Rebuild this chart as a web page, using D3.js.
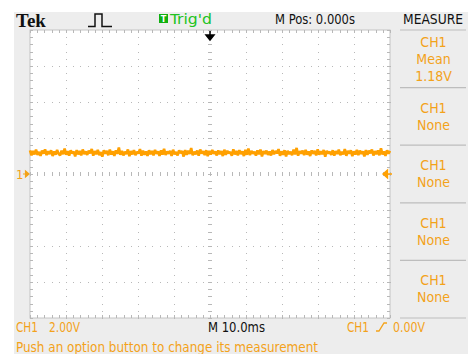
<!DOCTYPE html>
<html>
<head>
<meta charset="utf-8">
<script src="https://cdn.jsdelivr.net/npm/d3@7"></script>
<style>
  html, body { margin: 0; padding: 0; background: #ffffff; }
  svg { display: block; }
  .ui { font-family: "DejaVu Sans Condensed", "Liberation Sans Narrow", "DejaVu Sans", sans-serif; font-stretch: condensed; }
</style>
</head>
<body>
<svg id="scope" width="468" height="354"></svg>
<script>
// CH1 acquisition record, volts (one sample per trace step)
const traceVolts = [
  1.31,1.03,1.28,1.09,1.35,1.06,1.23,1.01,1.30,1.13,1.37,1.05,1.26,1.11,1.32,1.00,1.25,1.08,1.34,1.12,
  1.04,1.29,1.10,1.41,1.07,1.27,1.02,1.31,1.14,1.24,0.98,1.33,1.09,1.28,1.03,1.36,1.11,1.25,1.06,1.30,
  1.15,1.39,1.02,1.27,1.10,1.34,1.05,1.22,0.96,1.31,1.13,1.28,1.04,1.35,1.08,1.26,1.01,1.32,1.12,1.47,
  1.07,1.29,1.03,1.24,1.11,1.36,0.99,1.27,1.09,1.33,1.05,1.23,1.14,1.38,1.02,1.30,1.07,1.25,1.01,1.32,
  1.10,1.28,1.04,1.34,1.12,1.26,1.01,1.31,1.08,1.40,1.06,1.25,1.13,1.29,1.00,1.35,1.09,1.22,1.03,1.31,
  1.16,1.27,0.97,1.33,1.07,1.29,1.11,1.44,1.04,1.24,1.09,1.30,1.02,1.36,1.13,1.26,1.05,1.32,0.99,1.28,
  1.08,1.34,1.12,1.25,1.03,1.31,1.10,1.27,1.00,1.35,1.06,1.29,1.14,1.23,1.01,1.37,1.09,1.28,1.04,1.32,
  1.11,1.26,1.00,1.34,1.07,1.42,1.05,1.28,1.13,1.24,1.02,1.31,1.09,1.36,0.98,1.27,1.12,1.30,1.06,1.25,
  1.03,1.33,1.10,1.28,1.15,1.38,1.01,1.26,1.07,1.32,0.97,1.29,1.11,1.24,1.04,1.35,1.09,1.45,1.02,1.27,
  1.13,1.30,1.05,1.34,1.08,1.25,1.00,1.31,1.12,1.28,1.03,1.37,1.07,1.26,1.10,1.33,0.96,1.29,1.14,1.24,
  1.06,1.32,1.02,1.27,1.11,1.35,1.04,1.23,1.09,1.39,1.01,1.28,1.13,1.31,0.99,1.26,1.08,1.34,1.05,1.30,
  1.12,1.25,0.98,1.33,1.07,1.29,1.15,1.36,1.03,1.27,1.10,1.31,1.04,1.43,1.09,1.26,1.01,1.32,1.13,1.28
];

// Horizontal and vertical settings
const timePerDiv = 10;      // ms/div
const voltsPerDiv = 2;      // V/div
const hDivs = 10, vDivs = 8, minorPerDiv = 5;
const triggerLevel = 0;     // V
const chOffset = 0;         // V

// Measurement slots (right-hand menu)
const measureSources = ["CH1", "CH1", "CH1", "CH1", "CH1"];
const measureTypes   = ["Mean", "None", "None", "None", "None"];

// Status-bar labels
const brandLabel = "Tek";
const trigStatus = "Trig'd";
const posLabel = "M Pos: 0.000s";
const menuTitle = "MEASURE";
const chScaleLabel = ["CH1", "2.00V"];
const timebaseLabel = "M 10.0ms";
const trigSource = "CH1";
const trigLevelLabel = "0.00V";
const helpLabel = "Push an option button to change its measurement";

const ORANGE = "#ffa000";
const TEXT_OR = "#f3a21a";
const GRID = "#b8b8b8";

const svg = d3.select("#scope");

// Bezel
svg.append("rect").attr("x", 14).attr("y", 12).attr("width", 454).attr("height", 342).attr("fill", "#ededed");

// Graticule area
const X0 = 30, X1 = 390, Y0 = 30, Y1 = 318;
const x = d3.scaleLinear().domain([0, hDivs * timePerDiv]).range([X0, X1]);
const y = d3.scaleLinear().domain([-vDivs / 2 * voltsPerDiv, vDivs / 2 * voltsPerDiv]).range([Y1, Y0]);

svg.append("rect").attr("x", X0).attr("y", Y0).attr("width", X1 - X0).attr("height", Y1 - Y0)
  .attr("fill", "#ffffff").attr("stroke", "#c4c4c4").attr("stroke-width", 1);

const grid = svg.append("g").attr("shape-rendering", "crispEdges");
const minorT = d3.range(0, hDivs * timePerDiv + 0.001, timePerDiv / minorPerDiv);
const minorV = d3.range(-vDivs / 2 * voltsPerDiv, vDivs / 2 * voltsPerDiv + 0.001, voltsPerDiv / minorPerDiv);
const majorT = d3.range(1, hDivs).map(i => i * timePerDiv);
const majorV = d3.range(1, vDivs).map(i => -vDivs / 2 * voltsPerDiv + i * voltsPerDiv);

// dotted graticule: one dot per minor step along every major line
majorV.forEach(v => {
  grid.selectAll(null).data(minorT).enter().append("rect")
    .attr("x", t => Math.round(x(t))).attr("y", Math.round(y(v))).attr("width", 1).attr("height", 1).attr("fill", GRID);
});
majorT.forEach(t => {
  grid.selectAll(null).data(minorV).enter().append("rect")
    .attr("x", Math.round(x(t))).attr("y", v => Math.round(y(v))).attr("width", 1).attr("height", 1).attr("fill", GRID);
});

// centre cross tick marks and border ticks via axes
const tickStyle = g => { g.select(".domain").remove(); g.selectAll("text").remove(); g.selectAll("line").attr("stroke", GRID); };
grid.append("g").attr("transform", `translate(0,${y(0) + 2})`)
  .call(d3.axisTop(x).tickValues(minorT).tickSize(4)).call(tickStyle);
grid.append("g").attr("transform", `translate(${x(50) - 2},0)`)
  .call(d3.axisRight(y).tickValues(minorV).tickSize(4)).call(tickStyle);
grid.append("g").attr("transform", `translate(0,${Y0})`)
  .call(d3.axisBottom(x).tickValues(minorT).tickSize(3)).call(tickStyle);
grid.append("g").attr("transform", `translate(0,${Y1})`)
  .call(d3.axisTop(x).tickValues(minorT).tickSize(3)).call(tickStyle);
grid.append("g").attr("transform", `translate(${X0},0)`)
  .call(d3.axisRight(y).tickValues(minorV).tickSize(3)).call(tickStyle);
grid.append("g").attr("transform", `translate(${X1},0)`)
  .call(d3.axisLeft(y).tickValues(minorV).tickSize(3)).call(tickStyle);

// CH1 waveform
const tStep = (hDivs * timePerDiv) / (traceVolts.length - 1);
const line = d3.line().x((d, i) => x(i * tStep)).y(d => y(d + chOffset)).curve(d3.curveLinear);
svg.append("path").datum(traceVolts).attr("d", line)
  .attr("fill", "none").attr("stroke", ORANGE).attr("stroke-width", 2.6).attr("stroke-linejoin", "bevel");

// Ground marker "1 →" on the left
svg.append("text").attr("class", "ui").attr("x", 16).attr("y", y(chOffset) + 5)
  .attr("font-size", 13).attr("fill", TEXT_OR).text("1");
svg.append("path").attr("d", `M23,${y(chOffset)} H28 M25.5,${y(chOffset) - 3} L29,${y(chOffset)} L25.5,${y(chOffset) + 3} Z`)
  .attr("stroke", TEXT_OR).attr("fill", TEXT_OR).attr("stroke-width", 1.2);

// Trigger level marker on the right
const ty = y(triggerLevel);
svg.append("path").attr("d", `M383,${ty} L387.5,${ty - 4} L387.5,${ty + 4} Z M387,${ty} H392`)
  .attr("stroke", ORANGE).attr("fill", ORANGE).attr("stroke-width", 1.4);

// Trigger position arrow at top
const tx = x(50);
svg.append("path").attr("d", `M${tx},${Y0 + 1} V${Y0 + 6} M${tx - 4},${Y0 + 5} L${tx + 4},${Y0 + 5} L${tx},${Y0 + 10} Z`)
  .attr("stroke", "#000").attr("fill", "#000").attr("stroke-width", 1.5);

// helper for condensed readout text
function label(xp, yp, s, color, width, anchor) {
  const t = svg.append("text").attr("class", "ui").attr("x", xp).attr("y", yp)
    .attr("font-size", 14).attr("fill", color).attr("text-anchor", anchor || "start").text(s);
  if (width) t.attr("textLength", width).attr("lengthAdjust", "spacingAndGlyphs");
  return t;
}

// Top status bar
svg.append("text").attr("x", 16).attr("y", 27).attr("font-family", "'Liberation Serif', 'DejaVu Serif', serif")
  .attr("font-weight", "bold").attr("font-size", 19).attr("fill", "#111").text(brandLabel);
svg.append("path").attr("d", "M88,26.5 H95 V14 H102 V26.5 H112")
  .attr("fill", "none").attr("stroke", "#111").attr("stroke-width", 1.5);
svg.append("rect").attr("x", 159).attr("y", 14).attr("width", 9).attr("height", 9).attr("fill", "#10b010");
svg.append("text").attr("class", "ui").attr("x", 163.5).attr("y", 22).attr("text-anchor", "middle")
  .attr("font-size", 9).attr("font-weight", "bold").attr("fill", "#fff").text("T");
label(170, 24, trigStatus, "#22c322", 42);
label(275, 24, posLabel, "#111", 80);
label(403, 24, menuTitle, "#111", 60);

// Measurement menu
const slotTop = 30, slotH = 57.6;
const menu = svg.append("g");
menu.selectAll("line").data(d3.range(measureTypes.length + 1)).enter().append("line")
  .attr("x1", 400).attr("x2", 466).attr("y1", i => slotTop + i * slotH).attr("y2", i => slotTop + i * slotH)
  .attr("stroke", "#bdbdbd").attr("stroke-width", 1.2);
const meanValue = d3.mean(traceVolts).toFixed(2) + "V";
measureTypes.forEach((m, i) => {
  const lines = [measureSources[i], m];
  if (m === "Mean") lines.push(meanValue);
  const top = slotTop + i * slotH;
  lines.forEach((s, k) => {
    menu.append("text").attr("class", "ui").attr("x", 433.5).attr("y", (lines.length === 3 ? top + 17 : top + 25) + k * 17)
      .attr("text-anchor", "middle").attr("font-size", 14).attr("fill", TEXT_OR).text(s);
  });
});

// Bottom readouts
label(16, 332, chScaleLabel[0], TEXT_OR, 22);
label(49, 332, chScaleLabel[1], TEXT_OR, 31);
label(208, 332, timebaseLabel, "#111", 57);
label(347, 332, trigSource, TEXT_OR, 22);
svg.append("path").attr("d", "M376,331 H379 L384,323 H387").attr("fill", "none").attr("stroke", TEXT_OR).attr("stroke-width", 1.3);
label(393, 332, trigLevelLabel, TEXT_OR, 32);
label(16, 352, helpLabel, TEXT_OR, 302);
</script>
</body>
</html>
